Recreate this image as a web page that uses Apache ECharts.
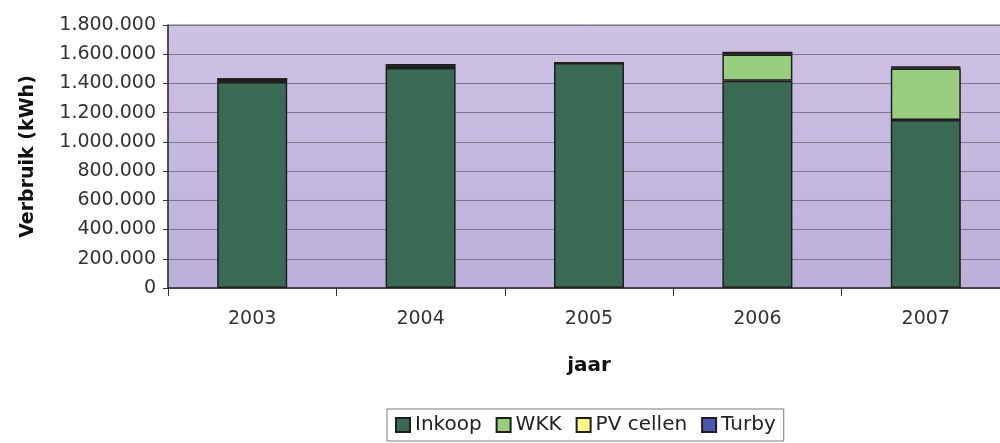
<!DOCTYPE html>
<html>
<head>
<meta charset="utf-8">
<script src="https://cdn.jsdelivr.net/npm/echarts@6/dist/echarts.min.js"></script>
<style>
  html, body { margin: 0; padding: 0; background: #ffffff; }
  #chart { width: 1000px; height: 443px; }
</style>
</head>
<body>
<div id="chart"></div>
<script>
// Electricity use per year (kWh), split by source
const years = ['2003', '2004', '2005', '2006', '2007'];
const inkoop = [1410000, 1505000, 1540000, 1418000, 1150000];
const wkk = [20000, 18000, 0, 180000, 352000];
const pvCellen = [0, 5000, 0, 14000, 8000];
const turby = [0, 0, 0, 0, 5000];
const yTicks = [0, 200000, 400000, 600000, 800000, 1000000, 1200000, 1400000, 1600000, 1800000];

const seriesNames = ['Inkoop', 'WKK', 'PV cellen', 'Turby'];
const seriesColors = ['#3b6a54', '#9acd80', '#fbf98a', '#4a58b0'];
const seriesData = [inkoop, wkk, pvCellen, turby];

const FONT = 'DejaVu Sans';

function dotted(v) {
  return String(v).replace(/\B(?=(\d{3})+(?!\d))/g, '.');
}

const chart = echarts.init(document.getElementById('chart'), null, { renderer: 'canvas' });

chart.setOption({
  animation: false,
  backgroundColor: '#ffffff',
  textStyle: { fontFamily: FONT },
  grid: {
    left: 168, top: 25, width: 842, height: 263,
    outerBoundsMode: 'none',
    containLabel: false,
    show: true,
    backgroundColor: {
      type: 'linear', x: 0, y: 0, x2: 0, y2: 1,
      colorStops: [{ offset: 0, color: '#cdc2e3' }, { offset: 1, color: '#bbb0d9' }]
    },
    borderColor: '#6e6680', borderWidth: 1
  },
  legend: {
    data: seriesNames,
    left: 387, top: 409,
    padding: [6, 8, 6, 8],
    itemWidth: 14, itemHeight: 14, itemGap: 14,
    borderColor: '#7a7a7a', borderWidth: 1,
    textStyle: { fontFamily: FONT, fontSize: 20, color: '#222' },
    icon: 'rect'
  },
  xAxis: {
    type: 'category',
    data: years,
    name: 'jaar',
    nameLocation: 'middle',
    nameGap: 68,
    nameTextStyle: { fontFamily: FONT, fontSize: 20, fontWeight: 'bold', color: '#111' },
    axisLine: { show: true, lineStyle: { color: '#333', width: 1.5 } },
    axisTick: { show: true, length: 8, lineStyle: { color: '#333' } },
    axisLabel: { fontFamily: FONT, fontSize: 19, color: '#333', margin: 22 },
    splitLine: { show: false }
  },
  yAxis: {
    type: 'value',
    min: yTicks[0], max: yTicks[yTicks.length - 1], interval: yTicks[1] - yTicks[0],
    name: 'Verbruik (kWh)',
    nameLocation: 'middle',
    nameGap: 130,
    nameTextStyle: { fontFamily: FONT, fontSize: 19, fontWeight: 'bold', color: '#111' },
    axisLine: { show: true, lineStyle: { color: '#333', width: 1.5 } },
    axisTick: { show: true, length: 5, lineStyle: { color: '#333' } },
    axisLabel: { fontFamily: FONT, fontSize: 19, color: '#333', margin: 12, formatter: dotted },
    splitLine: { show: true, lineStyle: { color: '#7d7590', width: 1 } }
  },
  series: seriesNames.map((name, i) => ({
    name: name,
    type: 'bar',
    stack: 'total',
    barWidth: 70,
    data: seriesData[i],
    itemStyle: { color: seriesColors[i], borderColor: '#1e1e1e', borderWidth: 1.5 }
  }))
});
</script>
</body>
</html>
